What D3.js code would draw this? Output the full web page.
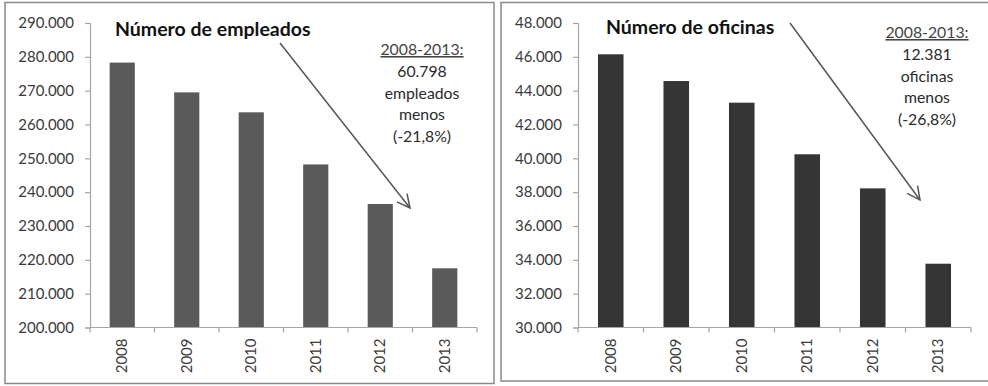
<!DOCTYPE html>
<html>
<head>
<meta charset="utf-8">
<script src="https://cdn.jsdelivr.net/npm/d3@7"></script>
<style>
  html, body { margin: 0; padding: 0; background: #fff; }
  svg { display: block; }
  text { font-family: Lato, "Open Sans", sans-serif; }
</style>
</head>
<body>
<svg id="chart" width="988" height="386"></svg>
<script>
// Years shown on both panels
const years = ["2008", "2009", "2010", "2011", "2012", "2013"];

// Bank employees per year
const empleados = [278300, 269500, 263600, 248200, 236500, 217500];
const empleadosTicks = [200000, 210000, 220000, 230000, 240000, 250000, 260000, 270000, 280000, 290000];
const empleadosNote = ["60.798", "empleados", "menos", "(-21,8%)"];

// Bank branch offices per year
const oficinas = [46150, 44570, 43290, 40240, 38225, 33770];
const oficinasTicks = [30000, 32000, 34000, 36000, 38000, 40000, 42000, 44000, 46000, 48000];
const oficinasNote = ["12.381", "oficinas", "menos", "(-26,8%)"];

const svg = d3.select("#chart");
const fmt = d3.formatLocale({ decimal: ",", thousands: ".", grouping: [3], currency: ["", "€"] }).format(",d");

svg.append("defs").append("marker")
  .attr("id", "arrowhead")
  .attr("viewBox", "0 0 16 16")
  .attr("refX", 15).attr("refY", 8)
  .attr("markerWidth", 16).attr("markerHeight", 16)
  .attr("markerUnits", "userSpaceOnUse")
  .attr("orient", "auto")
  .append("path")
  .attr("d", "M2,1.5 L15,8 L2,14.5")
  .attr("fill", "none")
  .attr("stroke", "#555")
  .attr("stroke-width", 1.5);

function panel(cfg) {
  const g = svg.append("g");

  // frame
  g.append("rect")
    .attr("x", cfg.frame[0]).attr("y", cfg.frame[1])
    .attr("width", cfg.frame[2]).attr("height", cfg.frame[3])
    .attr("fill", "#fff").attr("stroke", "#8a8a8a").attr("stroke-width", 1.5);

  const y = d3.scaleLinear().domain(cfg.domain).range([327.5, 23]);
  const x = d3.scaleBand().domain(years).range(cfg.xRange)
    .paddingInner(0.61).paddingOuter(0.305);

  // y axis
  const yAxis = g.append("g")
    .attr("transform", `translate(${cfg.xRange[0]},0)`)
    .call(d3.axisLeft(y).tickValues(cfg.ticks).tickFormat(fmt).tickSize(5).tickPadding(11));
  yAxis.select(".domain").attr("stroke", "#a6a6a6").attr("stroke-width", 1.2);
  yAxis.selectAll(".tick line").attr("stroke", "#a6a6a6").attr("stroke-width", 1.2);
  yAxis.selectAll(".tick text")
    .attr("fill", "#3a3a3a").style("font-size", "15px");

  // bars
  g.selectAll("rect.bar").data(cfg.values).join("rect")
    .attr("class", "bar")
    .attr("x", (d, i) => x(years[i]))
    .attr("y", d => y(d))
    .attr("width", x.bandwidth())
    .attr("height", d => y(cfg.domain[0]) - y(d))
    .attr("fill", cfg.color);

  // x axis with tick marks on category boundaries
  const xAxis = g.append("g")
    .attr("transform", `translate(0,${y(cfg.domain[0])})`);
  xAxis.append("line")
    .attr("x1", cfg.xRange[0]).attr("x2", cfg.xRange[1])
    .attr("stroke", "#a6a6a6").attr("stroke-width", 1.2);
  xAxis.selectAll("line.bound").data(d3.range(years.length + 1)).join("line")
    .attr("class", "bound")
    .attr("x1", i => cfg.xRange[0] + i * x.step())
    .attr("x2", i => cfg.xRange[0] + i * x.step())
    .attr("y1", 0).attr("y2", 5)
    .attr("stroke", "#a6a6a6").attr("stroke-width", 1.2);
  xAxis.selectAll("text").data(years).join("text")
    .attr("transform", d => `translate(${x(d) + x.bandwidth() / 2 + 5},11) rotate(-90)`)
    .attr("text-anchor", "end")
    .attr("fill", "#3a3a3a")
    .style("font-size", "15px")
    .text(d => d);

  // title
  g.append("text")
    .attr("x", cfg.titleX).attr("y", cfg.titleY)
    .attr("fill", "#111")
    .style("font-size", "19.5px").style("font-weight", "bold")
    .text(cfg.title);

  // trend arrow
  g.append("line")
    .attr("x1", cfg.arrow[0]).attr("y1", cfg.arrow[1])
    .attr("x2", cfg.arrow[2]).attr("y2", cfg.arrow[3])
    .attr("stroke", "#555").attr("stroke-width", 1.5)
    .attr("marker-end", "url(#arrowhead)");

  // annotation
  const note = g.append("text")
    .attr("text-anchor", "middle")
    .attr("fill", "#2a2a2a")
    .style("font-size", "15.8px");
  note.append("tspan")
    .attr("x", cfg.noteX).attr("y", cfg.noteY)
    .style("text-decoration", "underline")
    .attr("fill", "#444")
    .text("2008-2013:");
  cfg.note.forEach((t, i) => {
    note.append("tspan")
      .attr("x", cfg.noteX).attr("y", cfg.noteY + (i + 1) * cfg.noteStep)
      .text(t);
  });
}

panel({
  frame: [5, 2.5, 489, 381],
  domain: [200000, 290000],
  ticks: empleadosTicks,
  values: empleados,
  xRange: [90, 477],
  color: "#5a5a5a",
  title: "Número de empleados",
  titleX: 115, titleY: 36,
  arrow: [280, 43, 410, 208],
  note: empleadosNote,
  noteX: 422, noteY: 55, noteStep: 21.8
});

panel({
  frame: [501, 2.5, 492, 378.5],
  domain: [30000, 48000],
  ticks: oficinasTicks,
  values: oficinas,
  xRange: [578, 971],
  color: "#353535",
  title: "Número de oficinas",
  titleX: 606, titleY: 34,
  arrow: [790, 23, 920, 200],
  note: oficinasNote,
  noteX: 927, noteY: 38, noteStep: 21.8
});
</script>
</body>
</html>
